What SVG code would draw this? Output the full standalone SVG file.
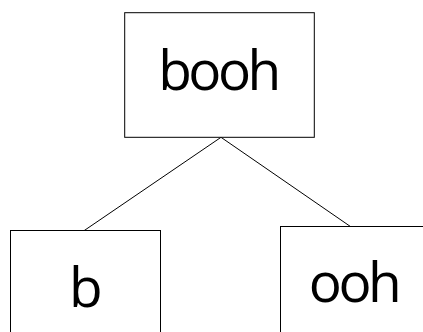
<svg xmlns="http://www.w3.org/2000/svg" width="423" height="332" viewBox="0 0 423 332">
<style>
.box{fill:#fff;stroke:#000;stroke-width:1}
.lbl{font-family:"Open Sans","DejaVu Sans",sans-serif;font-size:55px;fill:#000;text-anchor:middle;letter-spacing:-3.5px}
.edge{stroke:#000;stroke-width:1;fill:none}
</style>
<rect width="423" height="332" fill="#fff"/>
<g id="edges">
<line class="edge" x1="221" y1="137.3" x2="84" y2="230.7"/>
<line class="edge" x1="221" y1="137.3" x2="350.7" y2="226.7"/>
</g>
<g id="booh">
<rect class="box" x="124.7" y="12.7" width="189.6" height="124.6"/>
<text class="lbl" x="218" y="90">booh</text>
</g>
<g id="b">
<rect class="box" x="10.5" y="230.5" width="150" height="125"/>
<text class="lbl" x="84" y="306.5">b</text>
</g>
<g id="ooh">
<rect class="box" x="280.5" y="226.5" width="150" height="125"/>
<text class="lbl" x="353.5" y="301.7">ooh</text>
</g>
</svg>
